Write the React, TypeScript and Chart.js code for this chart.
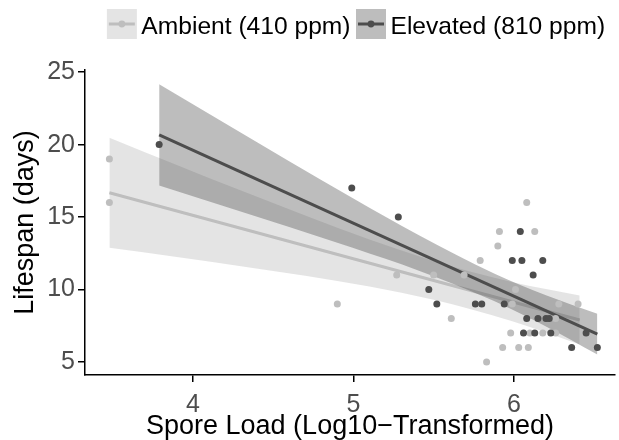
import React, { useEffect, useRef } from 'react';
import { Chart, registerables } from 'chart.js';

Chart.register(...registerables);

const FONT = '"Liberation Sans", Arial, Helvetica, sans-serif';

// ---- Data ----
const ambientX = [3.48, 3.48, 4.90, 5.27, 5.50, 5.61, 5.69, 5.79, 5.83, 5.90, 5.91, 5.93, 5.98, 5.99, 6.01, 6.03, 6.08, 6.09, 6.10, 6.13, 6.18, 6.26, 6.26, 6.28, 6.40];
const ambientY = [19, 16, 9, 11, 11, 8, 11, 12, 5, 13, 14, 6, 7, 9, 10, 6, 16, 6, 7, 14, 7, 8, 7, 9, 9];

const elevatedX = [3.79, 4.99, 5.28, 5.47, 5.52, 5.76, 5.80, 5.94, 6.04, 5.99, 6.05, 6.18, 6.12, 6.08, 6.15, 6.20, 6.22, 6.06, 6.13, 6.23, 6.45, 6.36, 6.52];
const elevatedY = [20, 17, 15, 10, 9, 9, 9, 9, 14, 12, 12, 12, 11, 8, 8, 8, 8, 7, 7, 7, 7, 6, 6];

const ambientFitX = [3.48, 6.41];
const ambientFitY = [16.68, 7.9];
const elevatedFitX = [3.79, 6.52];
const elevatedFitY = [20.67, 6.92];

const ambientBandX = [3.48, 3.9, 4.3, 4.7, 5.1, 5.5, 5.72, 6.0, 6.2, 6.41];
const ambientBandUpper = [20.48, 18.6, 16.83, 15.11, 13.46, 11.97, 11.26, 10.49, 10.03, 9.59];
const ambientBandLower = [12.88, 12.24, 11.61, 10.95, 10.2, 9.29, 8.68, 7.77, 7.03, 6.21];

const elevatedBandX = [3.79, 4.2, 4.6, 5.0, 5.4, 5.88, 6.2, 6.52];
const elevatedBandUpper = [24.17, 21.47, 18.86, 16.28, 13.79, 11.09, 9.61, 8.32];
const elevatedBandLower = [17.17, 15.73, 14.32, 12.86, 11.33, 9.19, 7.45, 5.52];

const legendLabels = ['Ambient (410 ppm)', 'Elevated (810 ppm)'];
const seriesColors = ['#BEBEBE', '#4D4D4D'];
const bandColors = ['rgba(190,190,190,0.42)', 'rgba(77,77,77,0.37)'];
const legendKeyBg = ['#E4E4E4', '#BDBDBD'];

const xTitle = 'Spore Load (Log10\u2212Transformed)';
const yTitle = 'Lifespan (days)';

const pts = (xs: number[], ys: number[]) => xs.map((x, i) => ({ x, y: ys[i] }));

const legendPlugin = {
  id: 'ggLegend',
  afterDraw(chart: any) {
    const ctx = chart.ctx as CanvasRenderingContext2D;
    const area = chart.chartArea;
    ctx.save();
    ctx.font = `24.6px ${FONT}`;
    const key = 30;
    const gap = 4.5;
    const sep = 5.5;
    const widths = legendLabels.map((t) => ctx.measureText(t).width);
    const total = widths.reduce((a, w) => a + key + gap + w, 0) + sep * (legendLabels.length - 1);
    let x = (area.left + area.right) / 2 + 6 - total / 2;
    const top = 9;
    const cy = top + key / 2;
    legendLabels.forEach((label, i) => {
      ctx.fillStyle = legendKeyBg[i];
      ctx.fillRect(x, top, key, key);
      ctx.strokeStyle = seriesColors[i];
      ctx.lineWidth = 3;
      ctx.beginPath();
      ctx.moveTo(x + 2, cy);
      ctx.lineTo(x + key - 2, cy);
      ctx.stroke();
      ctx.fillStyle = seriesColors[i];
      ctx.beginPath();
      ctx.arc(x + key / 2, cy, 3.4, 0, Math.PI * 2);
      ctx.fill();
      ctx.fillStyle = '#000';
      ctx.textAlign = 'left';
      ctx.textBaseline = 'alphabetic';
      ctx.fillText(label, x + key + gap, 34);
      x += key + gap + widths[i] + sep;
    });
    ctx.restore();
  },
};

const axisCommon = {
  grid: { display: true, drawOnChartArea: false, drawTicks: true, tickLength: 7, color: '#000', lineWidth: 1.5 },
  border: { display: true, color: '#000', width: 1.5 },
};

export default function App() {
  const ref = useRef<HTMLCanvasElement>(null);

  useEffect(() => {
    document.body.style.margin = '0';
    Chart.defaults.font.family = FONT;
    const hidden = 'rgba(0,0,0,0)';
    const chart = new Chart(ref.current as HTMLCanvasElement, {
      type: 'scatter',
      data: {
        datasets: [
          {
            type: 'scatter',
            label: 'Elevated points',
            data: pts(elevatedX, elevatedY),
            backgroundColor: seriesColors[1],
            borderWidth: 0,
            pointRadius: 3.5,
            order: 0,
          },
          {
            type: 'scatter',
            label: 'Ambient points',
            data: pts(ambientX, ambientY),
            backgroundColor: seriesColors[0],
            borderWidth: 0,
            pointRadius: 3.5,
            order: 1,
          },
          {
            type: 'line',
            label: 'Elevated fit',
            data: pts(elevatedFitX, elevatedFitY),
            borderColor: seriesColors[1],
            borderWidth: 3,
            pointRadius: 0,
            fill: false,
            order: 2,
          },
          {
            type: 'line',
            label: 'Elevated band upper',
            data: pts(elevatedBandX, elevatedBandUpper),
            borderColor: hidden,
            backgroundColor: bandColors[1],
            borderWidth: 0,
            pointRadius: 0,
            cubicInterpolationMode: 'monotone',
            fill: '+1',
            order: 3,
          },
          {
            type: 'line',
            label: 'Elevated band lower',
            data: pts(elevatedBandX, elevatedBandLower),
            borderColor: hidden,
            borderWidth: 0,
            pointRadius: 0,
            cubicInterpolationMode: 'monotone',
            fill: false,
            order: 3,
          },
          {
            type: 'line',
            label: 'Ambient fit',
            data: pts(ambientFitX, ambientFitY),
            borderColor: seriesColors[0],
            borderWidth: 3,
            pointRadius: 0,
            fill: false,
            order: 4,
          },
          {
            type: 'line',
            label: 'Ambient band upper',
            data: pts(ambientBandX, ambientBandUpper),
            borderColor: hidden,
            backgroundColor: bandColors[0],
            borderWidth: 0,
            pointRadius: 0,
            cubicInterpolationMode: 'monotone',
            fill: '+1',
            order: 5,
          },
          {
            type: 'line',
            label: 'Ambient band lower',
            data: pts(ambientBandX, ambientBandLower),
            borderColor: hidden,
            borderWidth: 0,
            pointRadius: 0,
            cubicInterpolationMode: 'monotone',
            fill: false,
            order: 5,
          },
        ] as any,
      },
      options: {
        animation: false,
        responsive: false,
        maintainAspectRatio: false,
        devicePixelRatio: 1,
        events: [],
        layout: { padding: { top: 70, left: 0, right: 0, bottom: 0 } },
        plugins: {
          legend: { display: false },
          tooltip: { enabled: false },
        },
        scales: {
          x: {
            type: 'linear',
            min: 3.328,
            max: 6.63,
            ...axisCommon,
            ticks: {
              stepSize: 1,
              includeBounds: false,
              color: '#4D4D4D',
              font: { size: 25, family: FONT },
              padding: 8,
              maxRotation: 0,
            },
            title: {
              display: true,
              text: xTitle,
              color: '#000',
              font: { size: 27, family: FONT },
              padding: { top: 0, bottom: -3 },
            },
            afterFit(scale: any) {
              scale.height = 65;
            },
          },
          y: {
            type: 'linear',
            min: 4.1,
            max: 25.15,
            ...axisCommon,
            ticks: {
              stepSize: 5,
              includeBounds: false,
              color: '#4D4D4D',
              font: { size: 25, family: FONT },
              padding: 3,
            },
            title: {
              display: true,
              text: yTitle,
              color: '#000',
              font: { size: 27, family: FONT },
              padding: { top: 9, bottom: 0 },
            },
            afterFit(scale: any) {
              scale.width = 85;
            },
          },
        },
      } as any,
      plugins: [legendPlugin],
    });
    return () => chart.destroy();
  }, []);

  return (
    <div style={{ position: 'absolute', left: 0, top: 0, width: 619, height: 440, background: '#fff' }}>
      <canvas ref={ref} width={619} height={440} style={{ display: 'block' }} />
    </div>
  );
}
